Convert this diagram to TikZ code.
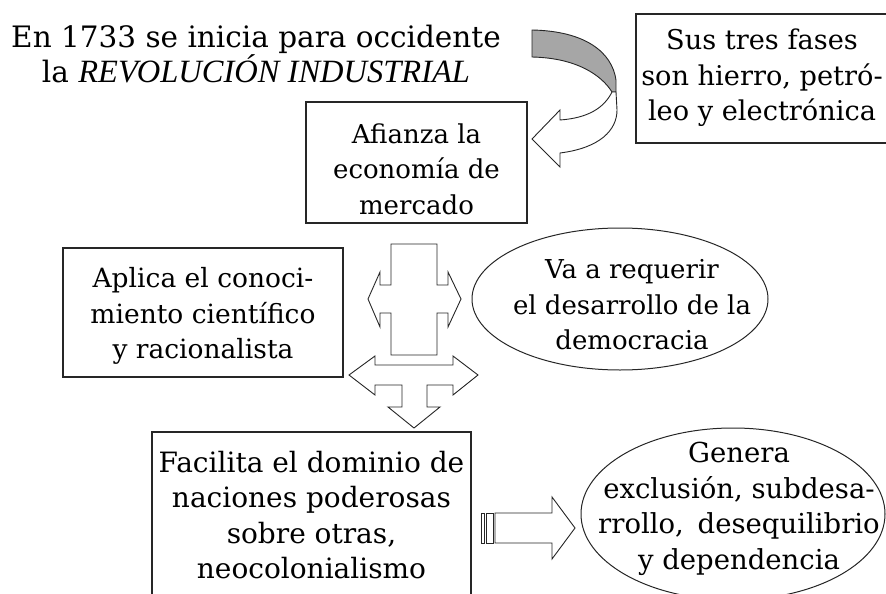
\documentclass[tikz,border=0pt]{standalone}
\usepackage{fontspec}
\setmainfont{DejaVu Serif}
\newfontfamily\titfont{Liberation Serif}
\begin{document}
\begin{tikzpicture}[x=1pt,y=-1pt,
  txt/.style={align=center, inner sep=0pt},
  fs/.style={font=\fontsize{#1}{35.5}\selectfont},
  boxline/.style={draw=black!85, line width=1.2pt},
  ellline/.style={draw=black!85, line width=1pt},
  blockarrow/.style={draw=black!85, line width=0.9pt, fill=white, line join=miter}]
\useasboundingbox (0,0) rectangle (886,594);
\clip (0,0) rectangle (886,594);

% title text
\node[txt, fs=29.5] (title) at (256,54) {En 1733 se inicia para occidente\\la {\titfont\itshape\fontsize{32.5}{35.5}\selectfont REVOLUCIÓN INDUSTRIAL}};

% boxes
\draw[boxline] (636,14) rectangle (892,143);
\node[txt, fs=27.2] (fases) at (762,78) {Sus tres fases\\son hierro, petró-\\leo y electrónica};

\draw[boxline] (306,102) rectangle (527,223);
\node[txt, fs=26] (afianza) at (416.5,169) {Afianza la\\economía de\\mercado};

\draw[boxline] (63,248) rectangle (343,377);
\node[txt, fs=26.5] (aplica) at (203,316) {Aplica el conoci-\\miento científico\\y racionalista};

\draw[boxline] (152,602) -- (152,432) -- (471,432) -- (471,602);
\node[txt, fs=28] (facilita) at (311.5,515) {Facilita el dominio de\\naciones poderosas\\sobre otras,\\neocolonialismo};

% ellipses
\draw[ellline] (620,299) ellipse [x radius=148pt, y radius=71pt];
\node[txt, fs=26] (democ) at (632,305) {Va a requerir\\el desarrollo de la\\democracia};

\draw[ellline] (733,514) ellipse [x radius=152pt, y radius=86pt];
\node[txt, fs=27.5] (genera) at (739,509) {Genera\\exclusión, subdesa-\\rrollo,\hspace{0.5em}desequilibrio\\y dependencia};

% curved arrow from title to afianza
\draw[blockarrow, fill=black!35] (532,30) .. controls (585,31) and (612,52) .. (616,80) -- (616,92) -- (612,92) .. controls (602,76) and (578,58) .. (532,57) -- cycle;
\draw[blockarrow] (612,92) .. controls (604,108) and (588,118) .. (560,120) -- (560,110) -- (532,139) -- (560,167) -- (560,153) .. controls (600,148) and (617,130) .. (617,110) -- (616,92) -- cycle;

% cross arrow (afianza - aplica - democ)
\draw[blockarrow] (391,244) -- (437,244) -- (437,285) -- (448,285) -- (448,272) -- (461,299) -- (448,327) -- (448,313) -- (437,313) -- (437,355) -- (391,355) -- (391,313) -- (380,313) -- (380,327) -- (368,299) -- (380,272) -- (380,285) -- (391,285) -- cycle;

% three-way arrow
\draw[blockarrow] (375,356) -- (349,375) -- (375,395) -- (375,385) -- (402,385) -- (402,407) -- (388,407) -- (414,428) -- (440,407) -- (427,407) -- (427,385) -- (453,385) -- (453,395) -- (478,375) -- (453,356) -- (453,365) -- (375,365) -- cycle;

% striped arrow facilita -> genera
\draw[blockarrow] (481,513) rectangle (484,543);
\draw[blockarrow] (486,513) rectangle (493,543);
\draw[blockarrow] (495,513) -- (552,513) -- (552,497) -- (575,528) -- (552,559) -- (552,543) -- (495,543) -- cycle;
\end{tikzpicture}
\end{document}
